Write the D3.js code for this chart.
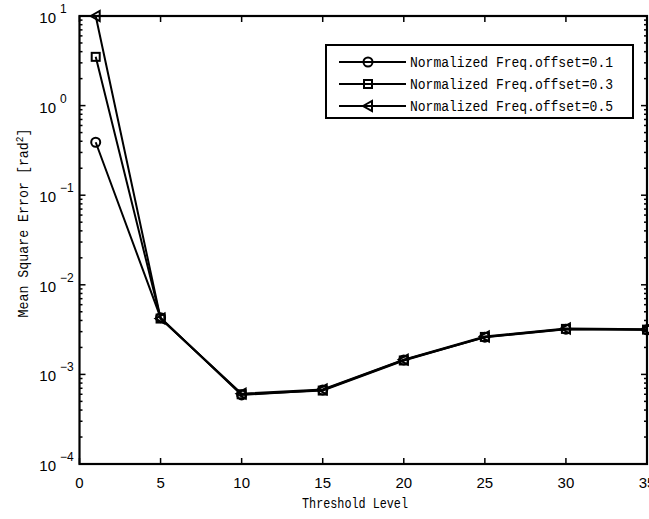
<!DOCTYPE html>
<html>
<head>
<meta charset="utf-8">
<script src="https://cdn.jsdelivr.net/npm/d3@7"></script>
<style>
body { margin: 0; background: #fff; }
svg text { font-family: "Liberation Mono", "DejaVu Sans Mono", monospace; fill: #000; }
</style>
</head>
<body>
<svg id="chart" width="649" height="519"></svg>
<script>
// data
var thresholds = [1, 5, 10, 15, 20, 25, 30, 35];
var mse01 = [0.39, 0.0043, 0.00059, 0.00067, 0.00145, 0.0026, 0.0032, 0.00315];
var mse03 = [3.5, 0.0042, 0.00060, 0.00066, 0.00143, 0.00262, 0.00322, 0.00316];
var mse05 = [10, 0.0042, 0.00061, 0.00068, 0.00146, 0.00265, 0.00325, 0.0032];
var seriesNames = ["Normalized Freq.offset=0.1", "Normalized Freq.offset=0.3", "Normalized Freq.offset=0.5"];
var markerTypes = ["circle", "square", "triangle"];
var xTicks = [0, 5, 10, 15, 20, 25, 30, 35];
var yExps = [-4, -3, -2, -1, 0, 1];

var svg = d3.select("#chart");
// note: "top" is window.top, so use other names
var pLeft = 79.5, pRight = 647, pTop = 16, pBottom = 464;

var x = d3.scaleLinear().domain([0, 35]).range([pLeft, pRight]);
var y = d3.scaleLog().domain([1e-4, 10]).range([pBottom, pTop]);

var g = svg.append("g");
var numFont = "Liberation Sans Narrow, Liberation Sans, sans-serif";

// minor ticks on log axis
var minors = [];
for (var e = -4; e < 1; e++) {
    for (var m = 2; m <= 9; m++) minors.push(m * Math.pow(10, e));
}
minors.forEach(function (v) {
    g.append("line").attr("x1", pLeft).attr("x2", pLeft + 3).attr("y1", y(v)).attr("y2", y(v))
        .attr("stroke", "#000").attr("stroke-width", 1.5);
    g.append("line").attr("x1", pRight).attr("x2", pRight - 3).attr("y1", y(v)).attr("y2", y(v))
        .attr("stroke", "#000").attr("stroke-width", 1.5);
});
yExps.forEach(function (ex) {
    var v = Math.pow(10, ex);
    g.append("line").attr("x1", pLeft).attr("x2", pLeft + 6).attr("y1", y(v)).attr("y2", y(v))
        .attr("stroke", "#000").attr("stroke-width", 1.5);
    g.append("line").attr("x1", pRight).attr("x2", pRight - 6).attr("y1", y(v)).attr("y2", y(v))
        .attr("stroke", "#000").attr("stroke-width", 1.5);
    g.append("text").attr("x", 56).attr("y", y(v) + 7)
        .attr("text-anchor", "end").style("font-size", "15px").style("font-family", numFont).text("10");
    g.append("text").attr("x", 60).attr("y", y(v) - 3)
        .style("font-size", "12px").style("font-family", numFont)
        .text(ex < 0 ? "\u2212" + (-ex) : ex);
});
xTicks.forEach(function (v) {
    g.append("line").attr("x1", x(v)).attr("x2", x(v)).attr("y1", pBottom).attr("y2", pBottom - 6)
        .attr("stroke", "#000").attr("stroke-width", 1.5);
    g.append("line").attr("x1", x(v)).attr("x2", x(v)).attr("y1", pTop).attr("y2", pTop + 6)
        .attr("stroke", "#000").attr("stroke-width", 1.5);
    g.append("text").attr("x", x(v)).attr("y", 488).attr("text-anchor", "middle")
        .style("font-size", "15px").style("font-family", numFont).text(v);
});

// frame
g.append("rect").attr("x", pLeft).attr("y", pTop).attr("width", pRight - pLeft).attr("height", pBottom - pTop)
    .attr("fill", "none").attr("stroke", "#000").attr("stroke-width", 2.2);

// axis labels
g.append("text").attr("x", 355).attr("y", 508).attr("text-anchor", "middle")
    .style("font-size", "14px").attr("textLength", 106).attr("lengthAdjust", "spacingAndGlyphs")
    .text("Threshold Level");
var yl = g.append("text").attr("transform", "translate(28,223) rotate(-90)").attr("text-anchor", "middle")
    .style("font-size", "14px").attr("textLength", 189).attr("lengthAdjust", "spacingAndGlyphs");
yl.append("tspan").text("Mean Square Error [rad");
yl.append("tspan").attr("dy", -5).style("font-size", "10px").text("2");
yl.append("tspan").attr("dy", 5).text("]");

function drawMarker(sel, type, cx, cy) {
    if (type === "circle") {
        sel.append("circle").attr("cx", cx).attr("cy", cy).attr("r", 4.5)
            .attr("fill", "none").attr("stroke", "#000").attr("stroke-width", 2);
    } else if (type === "square") {
        sel.append("rect").attr("x", cx - 4).attr("y", cy - 4).attr("width", 8).attr("height", 8)
            .attr("fill", "none").attr("stroke", "#000").attr("stroke-width", 2);
    } else {
        sel.append("path").attr("d", "M" + (cx - 5) + "," + cy + "L" + (cx + 4) + "," + (cy - 5) + "L" + (cx + 4) + "," + (cy + 5) + "Z")
            .attr("fill", "none").attr("stroke", "#000").attr("stroke-width", 2);
    }
}

var line = d3.line().x(function (d) { return x(d[0]); }).y(function (d) { return y(d[1]); });
var allSeries = [mse01, mse03, mse05];
var plot = svg.append("g");
allSeries.forEach(function (vals, i) {
    var pts = thresholds.map(function (t, j) { return [t, vals[j]]; });
    plot.append("path").attr("d", line(pts)).attr("fill", "none").attr("stroke", "#000").attr("stroke-width", 2);
    pts.forEach(function (p) { drawMarker(plot, markerTypes[i], x(p[0]), y(p[1])); });
});

// legend
var lg = svg.append("g");
lg.append("rect").attr("x", 326).attr("y", 45).attr("width", 307).attr("height", 73)
    .attr("fill", "#fff").attr("stroke", "#000").attr("stroke-width", 2);
seriesNames.forEach(function (name, i) {
    var ly = 62 + i * 22;
    lg.append("line").attr("x1", 339).attr("x2", 406).attr("y1", ly).attr("y2", ly)
        .attr("stroke", "#000").attr("stroke-width", 2);
    drawMarker(lg, markerTypes[i], 368, ly);
    lg.append("text").attr("x", 410).attr("y", ly + 5).style("font-size", "14px")
        .attr("textLength", 203).attr("lengthAdjust", "spacingAndGlyphs").text(name);
});
</script>
</body>
</html>
